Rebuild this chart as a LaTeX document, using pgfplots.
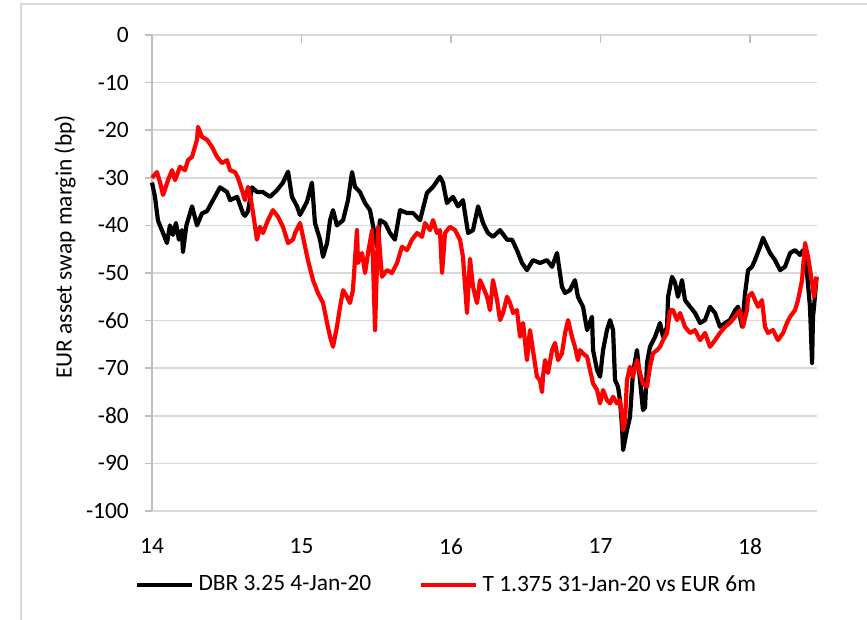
\documentclass[border=0pt]{standalone}
\usepackage{fontspec}
\setmainfont{Carlito}
\usepackage{pgfplots}
\pgfplotsset{compat=1.18}
\definecolor{gridc}{RGB}{217,217,217}
\definecolor{axc}{RGB}{191,191,191}
\newcommand{\chartfont}{\fontsize{11.7}{14}\selectfont}
\begin{document}
\chartfont
\begin{tikzpicture}[font=\chartfont]
\useasboundingbox (0,0) rectangle (433.5pt,310pt);
\draw[gridc, line width=1pt] (10.5pt,0) -- (10.5pt,308pt) -- (433.5pt,308pt);
\node[rotate=90, font=\chartfont] at (32.5pt,186.5pt) {EUR asset swap margin (bp)};
\begin{axis}[
  scale only axis, width=332.5pt, height=238pt,
  at={(76pt,54.5pt)}, anchor=south west,
  xmin=14, xmax=18.448, ymin=-100, ymax=0,
  axis line style={draw=none},
  xtick={14,15,16,17,18}, xticklabels={14,15,16,17,18},
  ytick={-100,-90,-80,-70,-60,-50,-40,-30,-20,-10,0},
  yticklabels={-100,-90,-80,-70,-60,-50,-40,-30,-20,-10,0},
  xtick style={draw=none},
  ytick pos=left, tick align=outside, major tick length=3.5pt,
  ytick style={axc, line width=0.8pt},
  ymajorgrids, grid style={gridc, line width=0.8pt},
  xticklabel style={yshift=-6pt, font=\chartfont},
  yticklabel style={xshift=-4pt, font=\chartfont},
  clip=false,
  legend columns=2,
  legend style={at={(0.4444,-0.1555)}, anchor=center, draw=none, fill=none,
    font=\chartfont, /tikz/every even column/.append style={column sep=22pt}},
  legend image code/.code={\draw[#1, line width=2.2pt] (0pt,0pt) -- (27.5pt,0pt);},
]
\draw[axc, line width=0.8pt] (rel axis cs:0,0) -- (rel axis cs:0,1);
\pgfplotsinvokeforeach{14,15,16,17,18}{\draw[axc, line width=0.8pt] (axis cs:#1,0) -- ([yshift=-4pt]axis cs:#1,0);}
\addplot[black, line width=2.1pt, line join=round] coordinates {
(14.000,-31) (14.020,-34) (14.040,-39) (14.074,-41.6) (14.100,-43.7) (14.120,-40)
(14.140,-42) (14.160,-39.5) (14.180,-43) (14.200,-41) (14.207,-45.6) (14.230,-40)
(14.268,-36) (14.301,-40) (14.334,-37.5) (14.368,-37) (14.408,-34.7) (14.455,-32)
(14.502,-33) (14.522,-34.7) (14.569,-34) (14.609,-37.5) (14.622,-38) (14.642,-37)
(14.669,-32) (14.702,-33) (14.742,-33) (14.789,-34) (14.836,-32.6) (14.876,-31)
(14.910,-28.7) (14.936,-34) (14.970,-36) (14.990,-37.8) (15.037,-35) (15.070,-31)
(15.090,-39.5) (15.124,-43) (15.144,-46.6) (15.171,-43.7) (15.191,-38.9) (15.211,-36.8)
(15.237,-40) (15.278,-38.9) (15.311,-34.7) (15.338,-28.8) (15.358,-31.9) (15.391,-33)
(15.425,-35.3) (15.458,-36.8) (15.478,-40) (15.505,-44.5) (15.525,-38.9) (15.559,-39.5)
(15.592,-41.6) (15.625,-43) (15.659,-36.8) (15.706,-37.4) (15.746,-37.4) (15.793,-38.9)
(15.839,-33.2) (15.880,-31.9) (15.926,-29.8) (15.946,-31) (15.973,-35.3) (16.013,-34)
(16.047,-36) (16.080,-34.7) (16.114,-41.6) (16.147,-41) (16.181,-36) (16.214,-39.5)
(16.247,-41.6) (16.281,-42.4) (16.328,-41) (16.375,-43) (16.408,-43) (16.441,-45.2)
(16.475,-47.9) (16.508,-49.4) (16.548,-47.3) (16.595,-47.9) (16.642,-47.3) (16.676,-48.7)
(16.709,-45.8) (16.742,-52.9) (16.763,-54.2) (16.796,-53.6) (16.829,-51.5) (16.849,-55)
(16.883,-57.1) (16.910,-62) (16.943,-59.2) (16.950,-66.2) (16.977,-70.4) (16.997,-71.8)
(17.017,-66.2) (17.043,-62) (17.064,-59.9) (17.084,-62) (17.097,-72.5) (17.117,-73.9)
(17.130,-76.7) (17.144,-82.4) (17.151,-87.2) (17.177,-83) (17.197,-80.3) (17.217,-71)
(17.244,-66.2) (17.264,-72.5) (17.284,-78.8) (17.298,-78.2) (17.311,-68.9) (17.331,-65.5)
(17.365,-63.4) (17.398,-60.5) (17.418,-63.4) (17.445,-61.3) (17.452,-55) (17.478,-50.8)
(17.498,-52) (17.518,-55) (17.545,-51.5) (17.565,-55.7) (17.599,-57.1) (17.632,-58.4)
(17.666,-60.5) (17.699,-59.9) (17.732,-57.1) (17.766,-58.4) (17.799,-61.3) (17.833,-60.5)
(17.866,-59.9) (17.900,-57.8) (17.920,-57.1) (17.947,-61.3) (17.967,-54.2) (17.987,-49.4)
(18.013,-48.7) (18.033,-47.3) (18.067,-44.5) (18.087,-42.6) (18.114,-44.5) (18.134,-45.8)
(18.167,-47.3) (18.201,-49.4) (18.234,-48.7) (18.268,-45.8) (18.301,-45.2) (18.334,-46.2)
(18.355,-45.2) (18.381,-50) (18.401,-57.1) (18.415,-68.9) (18.421,-59.2) (18.428,-57.1)
(18.445,-50.8)
};
\addlegendentry{DBR 3.25 4-Jan-20}
\addplot[red, line width=2.1pt, line join=round] coordinates {
(14.000,-30) (14.033,-28.8) (14.054,-31) (14.074,-33.6) (14.107,-30.5) (14.134,-28.4)
(14.154,-30.5) (14.187,-27.7) (14.221,-28.4) (14.241,-26.3) (14.268,-25.6) (14.301,-22)
(14.308,-19.3) (14.334,-21.4) (14.368,-22) (14.401,-23.5) (14.435,-25.6) (14.468,-26.9)
(14.502,-26.3) (14.522,-28.4) (14.555,-28.8) (14.575,-30) (14.602,-32.6) (14.622,-34.7)
(14.642,-31.9) (14.662,-34.7) (14.676,-37.4) (14.702,-43) (14.722,-40.3) (14.742,-41.6)
(14.776,-38.9) (14.809,-36.8) (14.843,-38.2) (14.876,-40.3) (14.910,-43.7) (14.943,-43)
(14.957,-41.6) (14.990,-39.5) (15.010,-42.4) (15.043,-47.3) (15.077,-51.5) (15.110,-54.2)
(15.144,-56.3) (15.171,-60.5) (15.191,-63.4) (15.211,-65.5) (15.237,-61.3) (15.258,-57.1)
(15.278,-53.6) (15.304,-55) (15.324,-56.3) (15.344,-53.6) (15.371,-41) (15.378,-47.9)
(15.405,-45.8) (15.425,-50) (15.445,-45.8) (15.472,-41) (15.492,-62) (15.512,-40.3)
(15.538,-50.8) (15.572,-49.4) (15.605,-50) (15.639,-47.9) (15.672,-44.5) (15.706,-45.2)
(15.739,-43) (15.773,-41.6) (15.806,-42.4) (15.826,-39.5) (15.860,-41) (15.880,-38.9)
(15.906,-41.6) (15.926,-41) (15.940,-50) (15.960,-41.6) (15.993,-40.3) (16.027,-41)
(16.060,-43) (16.080,-46.6) (16.107,-58.4) (16.127,-47) (16.147,-52.9) (16.174,-56.3)
(16.194,-51.5) (16.214,-52.9) (16.241,-55) (16.261,-57.8) (16.281,-51.5) (16.308,-55.7)
(16.328,-59.9) (16.348,-58.4) (16.375,-55) (16.395,-56.3) (16.415,-58.4) (16.441,-57.8)
(16.462,-63.4) (16.482,-60.5) (16.508,-68.3) (16.528,-62) (16.548,-66.2) (16.575,-71.8)
(16.595,-72.5) (16.609,-75) (16.615,-71.8) (16.629,-68.3) (16.649,-71) (16.676,-66.2)
(16.696,-64.7) (16.716,-68.3) (16.742,-66.9) (16.763,-62.6) (16.783,-59.9) (16.809,-63.4)
(16.829,-65.5) (16.849,-68.3) (16.863,-66.2) (16.883,-66.9) (16.910,-67.6) (16.930,-70.4)
(16.950,-73.2) (16.977,-74.6) (16.997,-77.4) (17.017,-74.6) (17.043,-76.7) (17.064,-77.4)
(17.084,-76) (17.110,-77.4) (17.130,-76.7) (17.144,-80.3) (17.151,-83) (17.164,-80.9)
(17.177,-72.5) (17.197,-69.7) (17.217,-71.8) (17.244,-68.3) (17.264,-71) (17.284,-73.2)
(17.311,-73.9) (17.331,-69.7) (17.351,-66.9) (17.378,-66.2) (17.398,-65.5) (17.418,-64.1)
(17.445,-62.6) (17.465,-57.8) (17.485,-57.8) (17.512,-59.9) (17.532,-58.4) (17.565,-61.3)
(17.599,-62.6) (17.632,-62) (17.666,-64.1) (17.699,-62.6) (17.732,-65.5) (17.766,-64.1)
(17.799,-62.6) (17.833,-61.3) (17.866,-60.5) (17.900,-59.2) (17.933,-57.8) (17.953,-61.3)
(17.980,-57.8) (17.987,-55) (18.013,-54.2) (18.033,-55.7) (18.054,-57.1) (18.080,-55.7)
(18.100,-61.3) (18.120,-62.6) (18.154,-62) (18.187,-64.1) (18.221,-62.6) (18.247,-60.5)
(18.268,-59.2) (18.301,-57.8) (18.321,-55.7) (18.348,-51.5) (18.368,-43.7) (18.388,-46.6)
(18.415,-52) (18.428,-55) (18.445,-50.8)
};
\addlegendentry{T 1.375 31-Jan-20 vs EUR 6m}
\end{axis}
\end{tikzpicture}
\end{document}
